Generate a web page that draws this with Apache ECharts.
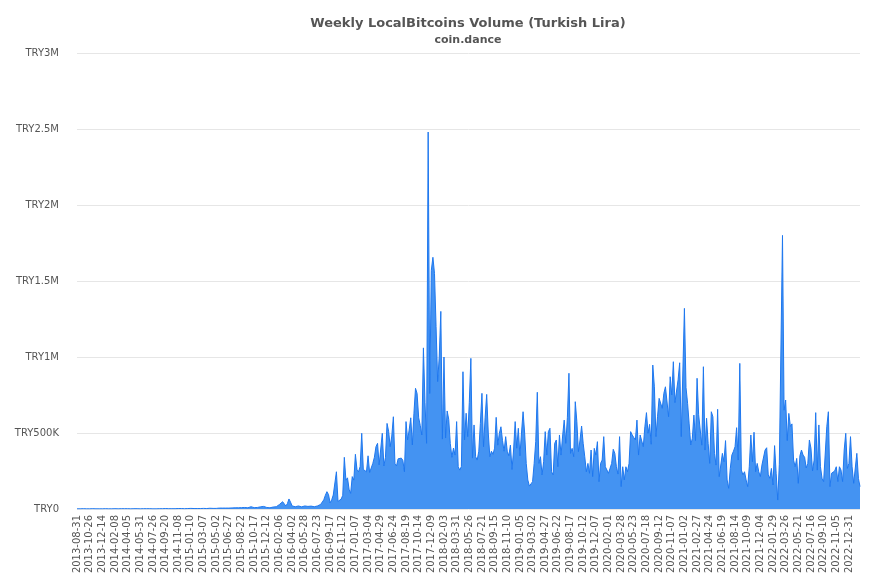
<!DOCTYPE html>
<html lang="en">
  <head>
    <meta charset="UTF-8" />
    <title>Weekly LocalBitcoins Volume (Turkish Lira)</title>
    <script src="https://cdn.jsdelivr.net/npm/echarts@6/dist/echarts.min.js"></script>
    <style>
      html, body { margin: 0; padding: 0; background: #fff; }
      #main { width: 877px; height: 585px; }
    </style>
  </head>
  <body>
    <div id="main"></div>
    <script>
      // tick labels shown on the x axis (every 8th week)
      var tickLabels = [
        "2013-08-31", "2013-10-26", "2013-12-14", "2014-02-08", "2014-04-05", "2014-05-31",
        "2014-07-26", "2014-09-20", "2014-11-08", "2015-01-10", "2015-03-07", "2015-05-02",
        "2015-06-27", "2015-08-22", "2015-10-17", "2015-12-12", "2016-02-06", "2016-04-02",
        "2016-05-28", "2016-07-23", "2016-09-17", "2016-11-12", "2017-01-07", "2017-03-04",
        "2017-04-29", "2017-06-24", "2017-08-19", "2017-10-14", "2017-12-09", "2018-02-03",
        "2018-03-31", "2018-05-26", "2018-07-21", "2018-09-15", "2018-11-10", "2019-01-05",
        "2019-03-02", "2019-04-27", "2019-06-22", "2019-08-17", "2019-10-12", "2019-12-07",
        "2020-02-01", "2020-03-28", "2020-05-23", "2020-07-18", "2020-09-12", "2020-11-07",
        "2021-01-02", "2021-02-27", "2021-04-24", "2021-06-19", "2021-08-14", "2021-10-09",
        "2021-12-04", "2022-01-29", "2022-03-26", "2022-05-21", "2022-07-16", "2022-09-10",
        "2022-11-05", "2022-12-31"
      ];

      // weekly volume, thousands of TRY
      var volumeK = [
        1,1,1,1,2,1,1,2,1,1,
        2,1,1,2,1,2,1,1,2,1,
        1,2,1,1,2,1,1,2,2,1,
        2,1,2,1,1,1,2,1,2,1,1,
        2,2,1,2,1,2,2,1,2,1,
        2,2,3,2,2,3,2,2,3,2,
        3,2,3,3,2,3,3,2,3,3,
        3,4,3,3,4,3,4,3,4,4,
        4,3,4,5,4,4,5,4,5,6,
        5,6,7,6,8,6,7,7,9,8,7,
        8,7,9,8,10,9,8,11,15,12,
        9,8,10,12,14,20,17,12,10,9,
        8,11,13,12,15,22,30,40,48,35,
        20,35,66,45,20,18,15,17,20,16,
        14,18,20,15,17,14,19,16,15,18,
        20,25,30,35,60,90,114,95,40,60,92,
        100,245,50,55,65,90,340,190,205,130,
        103,213,190,360,260,245,280,498,260,270,
        245,350,240,245,300,340,410,432,290,283,
        498,283,340,563,511,410,480,607,300,283,
        330,335,335,320,245,575,454,520,600,421,
        630,794,760,600,550,487,1060,700,432,2480,760,
        1570,1656,1550,1200,838,1000,1300,460,1000,467,
        645,590,430,340,401,355,575,278,256,280,
        903,454,630,476,700,991,335,553,344,322,
        380,564,761,410,600,754,500,344,380,360,
        400,603,420,498,541,450,380,476,380,350,
        420,260,388,575,400,531,350,500,640,500,
        300,191,151,165,180,300,443,768,300,344,224,
        311,509,355,509,531,245,224,432,454,278,
        487,355,480,585,432,600,893,366,399,344,
        706,575,377,454,546,432,344,245,300,235,
        388,213,399,355,443,180,300,322,476,278,
        267,235,268,300,393,366,278,230,476,147,
        278,191,278,245,300,509,487,470,454,585,355,
        487,476,410,541,634,498,557,426,947,804,
        476,607,728,728,662,761,804,800,607,870,
        750,969,700,690,850,962,476,465,1320,800,
        695,560,421,465,618,450,860,620,620,420,
        936,388,597,432,300,640,607,366,289,656,
        213,224,366,311,450,191,136,267,355,380,410,
        535,322,958,256,224,245,191,147,278,487,
        311,505,245,300,245,213,289,280,388,403,
        224,202,267,158,417,235,59,294,300,1800,
        650,717,450,629,543,560,322,278,333,169,
        350,388,355,340,270,300,454,400,250,322,
        634,256,553,278,202,180,180,541,640,147,
        235,224,250,278,180,278,256,180,388,498,267,
        300,476,278,169,175,366,202,147
      ];

      function addDays(s, n) {
        var d = new Date(s + "T00:00:00Z");
        d.setUTCDate(d.getUTCDate() + n);
        return d.toISOString().slice(0, 10);
      }

      // one category per week, anchored on the tick labels
      var weeks = [];
      for (var i = 0; i < volumeK.length; i++) {
        var k = Math.min(Math.floor(i / 8), tickLabels.length - 1);
        weeks.push(addDays(tickLabels[k], (i - k * 8) * 7));
      }
      var volume = volumeK.map(function (v) {
        return v * 1000;
      });

      var myChart = echarts.init(document.getElementById("main"));

      var option = {
        animation: false,
        title: {
          text: "Weekly LocalBitcoins Volume (Turkish Lira)",
          subtext: "coin.dance",
          left: 463,
          top: 12,
          textAlign: "center",
          itemGap: 5,
          textStyle: {
            fontFamily: "DejaVu Sans",
            fontSize: 13,
            fontWeight: "bold",
            color: "#555",
          },
          subtextStyle: {
            fontFamily: "DejaVu Sans",
            fontSize: 11,
            fontWeight: "bold",
            color: "#555",
          },
        },
        grid: {
          left: 77,
          right: 17,
          top: 53,
          bottom: 76,
        },
        xAxis: {
          type: "category",
          data: weeks,
          boundaryGap: false,
          axisLine: { show: false },
          axisTick: { show: false },
          axisLabel: {
            interval: 7,
            rotate: 90,
            margin: 6,
            fontFamily: "DejaVu Sans",
            fontSize: 10,
            color: "#555",
          },
        },
        yAxis: {
          type: "value",
          min: 0,
          max: 3000000,
          interval: 500000,
          axisLine: { show: false },
          axisTick: { show: false },
          splitLine: { lineStyle: { color: "#e6e6e6" } },
          axisLabel: {
            margin: 18,
            fontFamily: "DejaVu Sans",
            fontSize: 10,
            color: "#555",
            formatter: function (v) {
              if (v === 0) return "TRY0";
              if (v >= 1000000) return "TRY" + v / 1000000 + "M";
              return "TRY" + v / 1000 + "K";
            },
          },
        },
        series: [
          {
            name: "Volume",
            type: "line",
            data: volume,
            showSymbol: false,
            sampling: "none",
            lineStyle: { color: "#1f78ef", width: 1 },
            itemStyle: { color: "#1f78ef" },
            areaStyle: { color: "#4493f2", opacity: 1 },
          },
        ],
      };

      myChart.setOption(option);
    </script>
  </body>
</html>
